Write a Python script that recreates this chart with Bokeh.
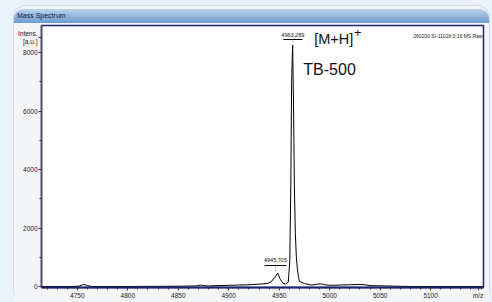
from bokeh.plotting import figure
from bokeh.models import FixedTicker, Label, Div, Spacer
from bokeh.layouts import column, row
from bokeh.embed import file_html
from bokeh.resources import INLINE

# ---- data ----
mz = [4714.5, 4745, 4752, 4755, 4757, 4760, 4765, 4800, 4850, 4868, 4872, 4875,
      4880, 4900, 4910, 4920, 4930, 4938, 4942, 4945.5, 4948.5, 4951, 4953.5, 4956,
      4959, 4960.5, 4961.5, 4962.3, 4963.3, 4964.2, 4965, 4966, 4967, 4968,
      4969, 4970, 4975, 4982, 4988, 4992, 4995, 5000, 5010, 5020, 5030, 5035,
      5040, 5080, 5152]
intensity = [0, 0, 15, 60, 70, 30, 0, 0, 10, 20, 50, 30,
             20, 40, 50, 60, 80, 100, 160, 300, 460, 250, 120, 80,
             150, 900, 3500, 7000, 8250, 6200, 3500, 1800, 1000, 600,
             350, 180, 100, 50, 80, 90, 60, 40, 50, 60, 70, 60,
             30, 0, 0]

x_major_ticks = [4750, 4800, 4850, 4900, 4950, 5000, 5050, 5100, 5147]
x_tick_overrides = {5147: "m/z"}
x_minor_ticks = list(range(4720, 5151, 10))
y_major_ticks = [0, 2000, 4000, 6000, 8000, 8510]
y_tick_overrides = {8510: "Intens.\n[a.u.]"}
y_minor_ticks = [1000, 3000, 5000, 7000]
x_start, x_end = 4714.5, 5152.4
y_start, y_end = -34, 8923

peak_text = ["4963.289", "4945.705"]
peak_mz = [4963.5, 4946.3]
peak_top = [8250, 470]
peak_label_y = [8615, 890]
peak_underline_y = [8444, 718]
peak_half_width = [9.4, 10.8]

FONT = "Liberation Sans"
NAVY = "#1c2470"
PANEL = "#f4f5f7"

p = figure(width=475, height=279, output_backend="svg", toolbar_location=None,
           x_range=(x_start, x_end), y_range=(y_start, y_end),
           min_border_left=25, min_border_right=6, min_border_top=2,
           min_border_bottom=15)
p.background_fill_color = "white"
p.border_fill_color = PANEL
p.outline_line_color = NAVY
p.outline_line_width = 1.5
p.xgrid.visible = False
p.ygrid.visible = False

p.xaxis.ticker = FixedTicker(ticks=x_major_ticks, minor_ticks=x_minor_ticks)
p.yaxis.ticker = FixedTicker(ticks=y_major_ticks, minor_ticks=y_minor_ticks)
p.xaxis.major_label_overrides = x_tick_overrides
p.yaxis.major_label_overrides = y_tick_overrides
for ax in (p.xaxis, p.yaxis):
    ax.major_label_text_font = FONT
    ax.major_label_text_font_size = "6.5px"
    ax.major_label_text_color = "#222222"
    ax.major_tick_out = 3
    ax.major_tick_in = 0
    ax.minor_tick_out = 2
    ax.minor_tick_in = 0
    ax.major_tick_line_color = "#333333"
    ax.minor_tick_line_color = "#333333"
    ax.major_label_standoff = 1
p.xaxis.axis_line_color = NAVY
p.xaxis.axis_line_width = 2
p.yaxis.axis_line_color = "#4a4a5a"
p.yaxis.axis_line_width = 1.5

# spectrum
p.line(mz, intensity, line_color="black", line_width=1)

# peak annotations: underlined labels and dotted connectors
p.segment(x0=[m - w for m, w in zip(peak_mz, peak_half_width)],
          x1=[m + w for m, w in zip(peak_mz, peak_half_width)],
          y0=peak_underline_y, y1=peak_underline_y,
          line_color="black", line_width=1)
p.segment(x0=peak_mz, x1=peak_mz,
          y0=[u - 60 for u in peak_underline_y], y1=peak_top,
          line_color="#888888", line_width=1, line_dash="1 2")
for t, xm, yl in zip(peak_text, peak_mz, peak_label_y):
    p.add_layout(Label(x=xm, y=yl, text=t, text_align="center",
                       text_baseline="middle", text_font=FONT,
                       text_font_size="5.5px", text_color="#111111"))

p.add_layout(Label(x=4984.7, y=8470, text="[M+H]", text_align="left",
                   text_baseline="middle", text_font=FONT,
                   text_font_size="14.5px", text_color="#111111"))
p.add_layout(Label(x=5024, y=8667, text="+", text_align="left",
                   text_baseline="middle", text_font=FONT,
                   text_font_size="13px", text_color="#111111"))
p.add_layout(Label(x=4973.9, y=7419, text="TB-500", text_align="left",
                   text_baseline="middle", text_font=FONT,
                   text_font_size="16px", text_color="#111111"))
p.add_layout(Label(x=5151.5, y=8581, text="260200 SI-1102b 0:16 MS Raw",
                   text_align="right", text_baseline="middle",
                   text_font=FONT, text_font_size="5px", text_color="#222222"))

title_bar = Div(text="Mass Spectrum", width=475, height=14, margin=(3, 0, 0, 0),
                styles={"background": "linear-gradient(#bcd2ec, #6e9bd1)",
                        "font-family": "Liberation Sans, sans-serif",
                        "font-size": "7px", "color": "#0c1838",
                        "line-height": "14px", "padding-left": "3px",
                        "box-sizing": "border-box", "overflow": "hidden",
                        "border-radius": "9px 9px 0 0"})

panel = column(title_bar, p, spacing=0,
               styles={"background-color": PANEL, "border-radius": "12px",
                       "box-shadow": "0 0 0 1px #cfdcec"})
page = column(Spacer(width=492, height=6),
              row(Spacer(width=14, height=296), panel, spacing=0),
              spacing=0, styles={"background-color": "#e9f1fa"})

open("out.html", "w").write(file_html(page, INLINE))
